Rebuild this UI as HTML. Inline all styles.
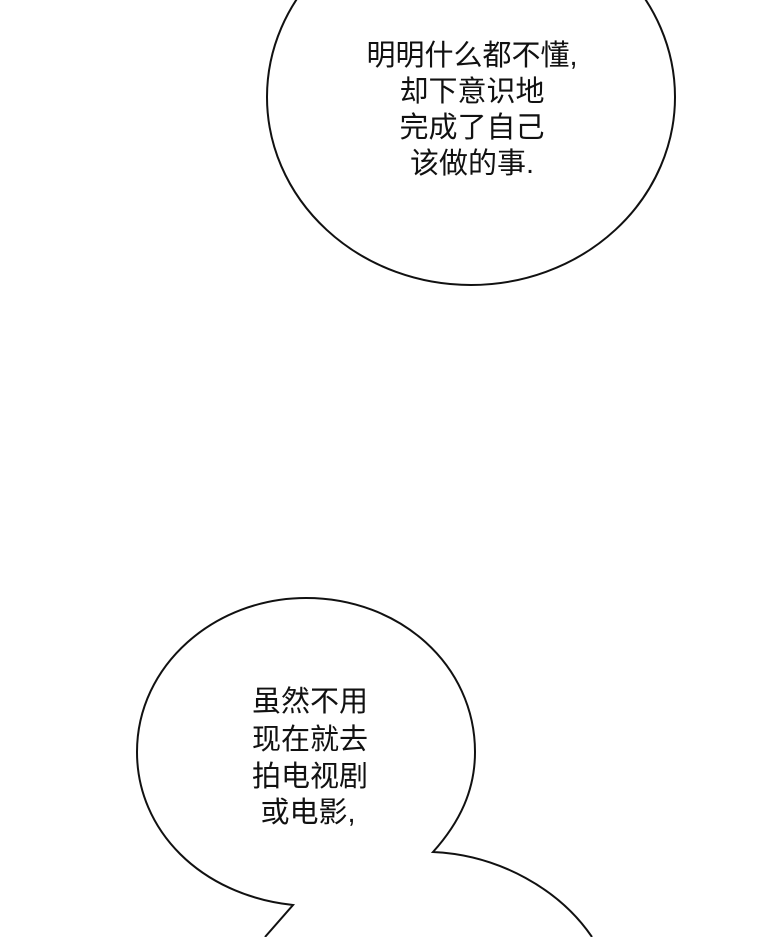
<!DOCTYPE html>
<html><head><meta charset="utf-8"><style>
html,body{margin:0;padding:0;background:#fff;}
svg{display:block}
text{font-family:"Liberation Sans","Noto Sans CJK SC",sans-serif;font-size:29px;fill:#111;text-anchor:middle}
</style></head><body>
<svg width="760" height="937" viewBox="0 0 760 937">
<rect width="760" height="937" fill="#fff"/>
<ellipse cx="471" cy="97" rx="204" ry="188" fill="#fff" stroke="#111" stroke-width="2"/>
<text x="472" y="65">明明什么都不懂,</text>
<text x="472" y="101">却下意识地</text>
<text x="472" y="137">完成了自己</text>
<text x="472" y="173">该做的事.</text>
<path d="M 265 937 L 293 905 C 200 895, 137 830, 137 752 C 137 665, 215 598, 306 598 C 400 598, 475 665, 475 752 C 475 790, 460 822, 433 852 C 500 855, 560 890, 592 937" fill="#fff" stroke="#111" stroke-width="2"/>
<text x="310" y="711">虽然不用</text>
<text x="310" y="749">现在就去</text>
<text x="310" y="786">拍电视剧</text>
<text x="308" y="822">或电影,</text>
</svg>
</body></html>
